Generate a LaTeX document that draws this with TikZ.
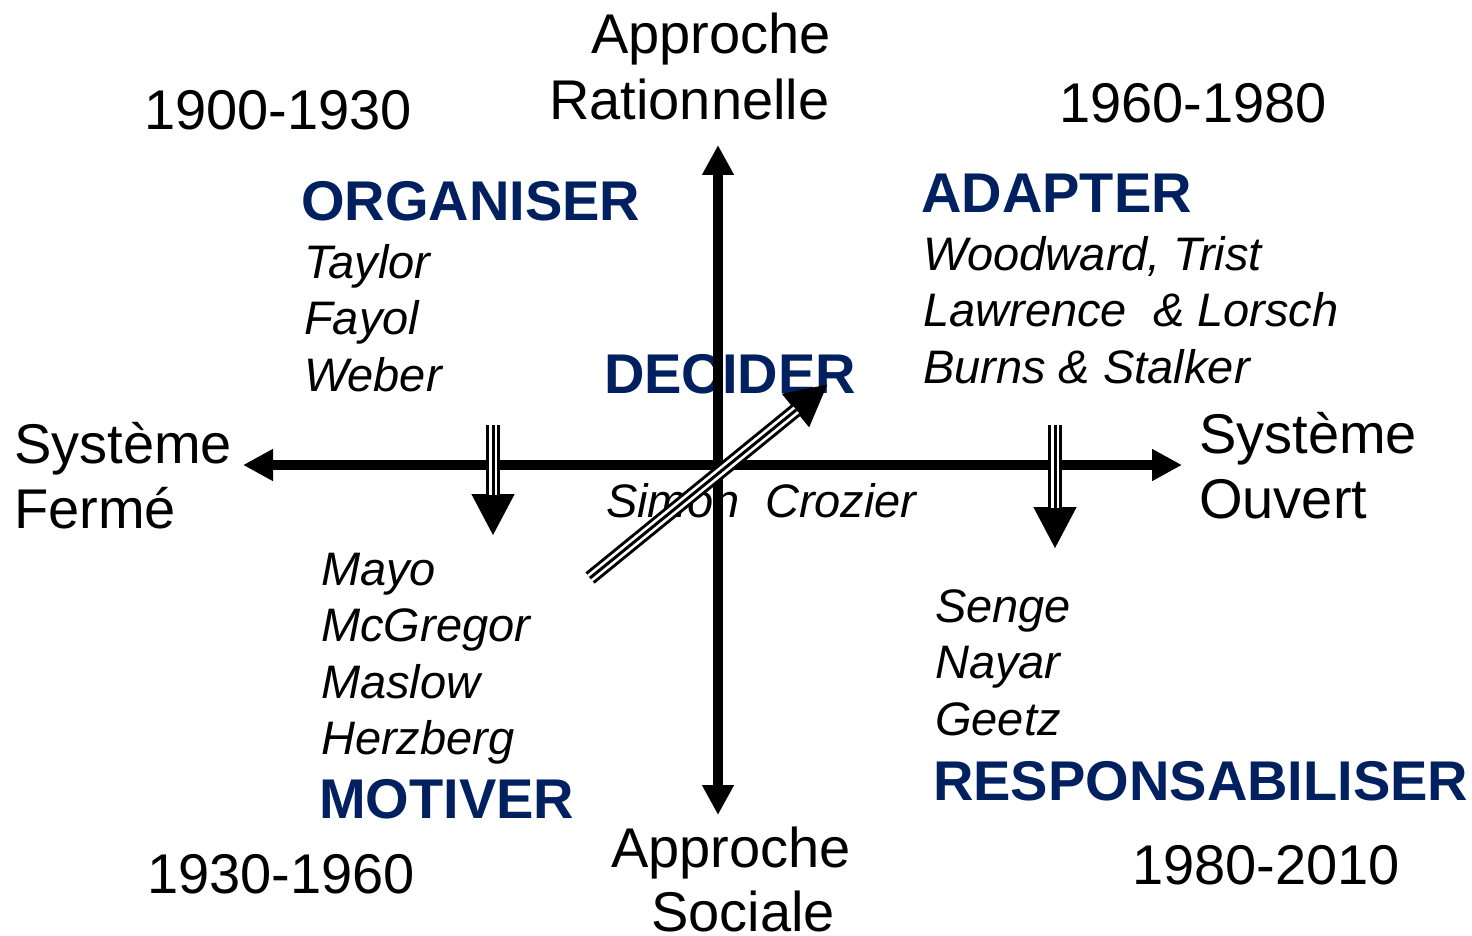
\documentclass[tikz,border=0pt]{standalone}
\usepackage{fontspec}
\setmainfont{Liberation Sans}
\usetikzlibrary{arrows.meta}
\definecolor{verbblue}{RGB}{0,32,96}

\tikzset{
  plain/.style={anchor=base west, inner sep=0pt, font=\fontsize{56}{66}\selectfont},
  verb/.style={anchor=base west, inner sep=0pt, text=verbblue, font=\fontsize{56}{66}\selectfont\bfseries},
  who/.style={anchor=base west, inner sep=0pt, font=\fontsize{47}{56}\selectfont\itshape},
  axis/.style={line width=10pt, {Triangle[length=30pt,width=30pt]}-{Triangle[length=30pt,width=30pt]}},
  shiftout/.style={line width=14.5pt, -{Triangle[length=42pt,width=40pt]}},
  shiftgap/.style={line width=8.5pt, white, shorten >=41pt},
  shiftmid/.style={line width=3pt, shorten >=41pt},
}

\begin{document}
\begin{tikzpicture}[x=1pt,y=-1pt]
    \useasboundingbox (0,0) rectangle (1472,936);

    % Axis titles
    \node[plain] (appr) at (591,54) {Approche};
    \node[plain] (rat) at (549,120) {Rationnelle};
    \node[plain] (apps) at (611,867) {Approche};
    \node[plain] (soc) at (651,931) {Sociale};
    \node[plain] (sysf) at (14,463) {Système};
    \node[plain] (ferm) at (14,528) {Fermé};
    \node[plain] (syso) at (1199,453) {Système};
    \node[plain] (ouv) at (1199,518) {Ouvert};

    % Periods
    \node[plain] (p1) at (144,130) {1900-1930};
    \node[plain] (p2) at (1059,123) {1960-1980};
    \node[plain] (p3) at (147,893) {1930-1960};
    \node[plain] (p4) at (1132,884) {1980-2010};

    % Verbs
    \node[verb] (org) at (301,220) {ORGANISER};
    \node[verb] (ada) at (921,212) {ADAPTER};
    \node[verb] (dec) at (604,393) {DECIDER};
    \node[verb] (mot) at (319,818) {MOTIVER};
    \node[verb] (resp) at (933,800) {RESPONSABILISER};

    % Authors
    \foreach \n [count=\i] in {Taylor,Fayol,Weber}
        \node[who] (a\i) at (304,278+56.5*\i-56.5) {\n};
    \foreach \n [count=\i] in {{Woodward, Trist},{Lawrence\ \ \& Lorsch},{Burns \& Stalker}}
        \node[who] (b\i) at (923,270+56.5*\i-56.5) {\n};
    \foreach \n [count=\i] in {Mayo,McGregor,Maslow,Herzberg}
        \node[who] (c\i) at (321,585+56.5*\i-56.5) {\n};
    \foreach \n [count=\i] in {Senge,Nayar,Geetz}
        \node[who] (d\i) at (935,622+56.5*\i-56.5) {\n};
    \node[who] (sim) at (606,517) {Simon};
    \node[who] (cro) at (765,517) {Crozier};

    % Axes
    \coordinate (xl) at (243,465);
    \coordinate (xr) at (1182,465);
    \coordinate (yt) at (718,145);
    \coordinate (yb) at (718,815);
    \draw[axis] (xl) -- (xr);
    \draw[axis] (yt) -- (yb);

    % Shift arrows
    \coordinate (l0) at (493,425);
    \coordinate (l1) at (493,536);
    \coordinate (r0) at (1055,425);
    \coordinate (r1) at (1055,549);
    \coordinate (d0) at (590,578);
    \coordinate (d1) at (828,384);
    \foreach \s/\e in {l0/l1,r0/r1,d0/d1} {
        \draw[shiftout] (\s) -- (\e);
        \draw[shiftgap] (\s) -- (\e);
        \draw[shiftmid] (\s) -- (\e);
    }
\end{tikzpicture}
\end{document}
